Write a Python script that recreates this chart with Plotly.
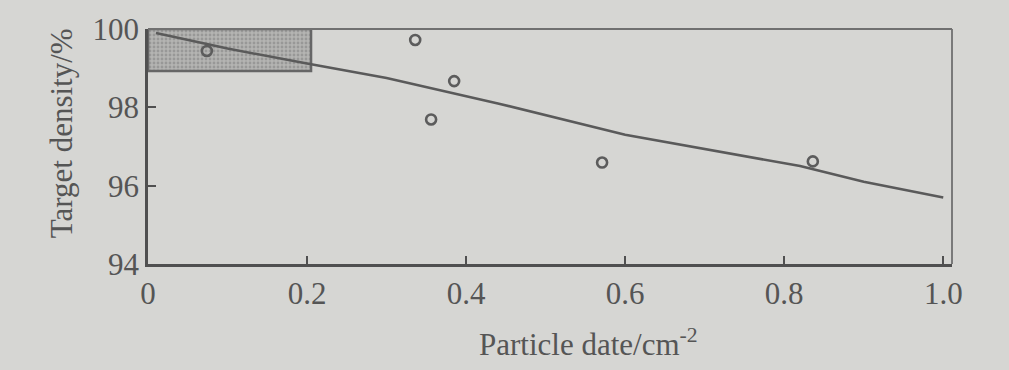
import plotly.graph_objects as go

# Data
line_x = [0.01, 0.10, 0.20, 0.30, 0.44, 0.60, 0.82, 0.90, 1.00]
line_y = [99.90, 99.50, 99.12, 98.75, 98.10, 97.30, 96.50, 96.10, 95.70]

pts_x = [0.074, 0.336, 0.385, 0.356, 0.571, 0.836]
pts_y = [99.44, 99.72, 98.67, 97.69, 96.59, 96.62]

box_x = [0.0, 0.205]
box_y = [98.93, 100.0]

x_ticks = [0, 0.2, 0.4, 0.6, 0.8, 1.0]
x_labels = ["0", "0.2", "0.4", "0.6", "0.8", "1.0"]
y_ticks = [94, 96, 98, 100]
y_labels = ["94", "96", "98", "100"]

BG = "#d6d6d3"
INK = "#505050"
TXT = "#555555"
FONT = "Liberation Serif"
FS = 31

fig = go.Figure()

# shaded region
fig.add_trace(go.Scatter(
    x=[box_x[0], box_x[1], box_x[1], box_x[0], box_x[0]],
    y=[box_y[0], box_y[0], box_y[1], box_y[1], box_y[0]],
    mode="lines", fill="toself",
    fillcolor="#acacaa",
    fillpattern=dict(shape=".", bgcolor="#b4b4b2", fgcolor="#7c7c7c", size=4, solidity=0.4),
    line=dict(color="#666666", width=2.5),
    hoverinfo="skip", showlegend=False,
))

# fitted line
fig.add_trace(go.Scatter(
    x=line_x, y=line_y, mode="lines",
    line=dict(color="#5a5a5a", width=2.5),
    showlegend=False,
))

# data points
fig.add_trace(go.Scatter(
    x=pts_x, y=pts_y, mode="markers",
    marker=dict(symbol="circle-open", size=10, color="#5c5c5c", line=dict(width=2.6, color="#5c5c5c")),
    showlegend=False,
))

fig.update_layout(
    width=1009, height=370,
    margin=dict(l=148, r=57, t=29, b=106),
    paper_bgcolor=BG, plot_bgcolor=BG,
    font=dict(family=FONT, size=FS, color=TXT),
    showlegend=False,
)

fig.update_xaxes(
    range=[0, 1.011], tickvals=x_ticks, ticktext=x_labels,
    ticks="inside", ticklen=8, tickwidth=1.5, tickcolor=INK,
    showline=True, linecolor=INK, linewidth=2.5, mirror=False,
    showgrid=False, zeroline=False,
    tickfont=dict(family=FONT, size=FS, color=TXT),
)
fig.update_yaxes(
    range=[94, 100], tickvals=y_ticks, ticktext=y_labels,
    ticks="inside", ticklen=8, tickwidth=2, tickcolor=INK,
    showline=True, linecolor=INK, linewidth=2.5, mirror=False,
    showgrid=False, zeroline=False,
    tickfont=dict(family=FONT, size=FS, color=TXT),
)

# top and right frame (thinner, lighter)
fig.add_shape(type="line", xref="paper", yref="paper", x0=0, x1=1, y0=1, y1=1,
              line=dict(color="#707070", width=1.8))
fig.add_shape(type="line", xref="paper", yref="paper", x0=1, x1=1, y0=0, y1=1,
              line=dict(color="#707070", width=1.8))

# axis titles
fig.add_annotation(
    text="Particle date/cm<sup>-2</sup>", xref="paper", yref="paper",
    x=0.548, y=-0.335, xanchor="center", yanchor="middle", showarrow=False,
    font=dict(family=FONT, size=FS, color=TXT),
)
fig.add_annotation(
    text="Target density/%", xref="paper", yref="paper",
    x=-0.108, y=0.557, xanchor="center", yanchor="middle", textangle=-90, showarrow=False,
    font=dict(family=FONT, size=FS, color=TXT),
)

fig.write_html(
    "out.html",
    config={"displayModeBar": False},
    post_script="document.body.style.margin='0';document.body.style.background='#d6d6d3';",
)
